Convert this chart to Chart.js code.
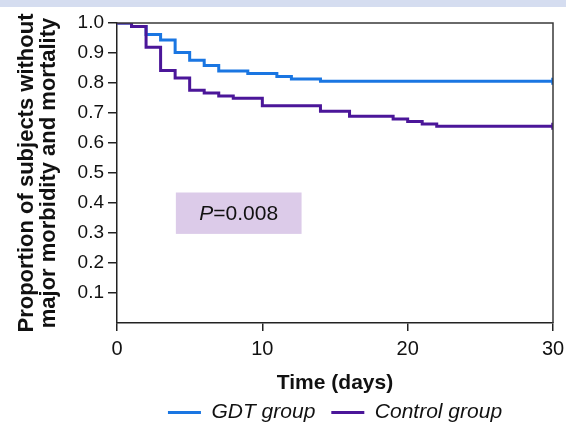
<!DOCTYPE html>
<html>
<head>
<meta charset="utf-8">
<script src="https://cdn.jsdelivr.net/npm/chart.js@4/dist/chart.umd.min.js"></script>
<style>
  html, body { margin: 0; padding: 0; background: #ffffff; }
  #wrap { width: 566px; height: 442px; position: relative; }
</style>
</head>
<body>
<div id="wrap"><canvas id="c" width="566" height="442"></canvas></div>
<script>
// ---- data ----
const seriesNames = ["GDT group", "Control group"];
const gdtDays   = [0, 1, 2, 3, 4, 5, 6, 7, 9, 11, 12, 14, 30];
const gdtValues = [1.0, 0.988, 0.962, 0.943, 0.902, 0.876, 0.858, 0.840, 0.832, 0.822, 0.813, 0.806, 0.806];
const ctlDays   = [0, 1, 2, 3, 4, 5, 6, 7, 8, 10, 14, 16, 19, 20, 21, 22, 30];
const ctlValues = [1.0, 0.988, 0.919, 0.842, 0.817, 0.776, 0.767, 0.757, 0.749, 0.724, 0.706, 0.689, 0.680, 0.672, 0.663, 0.656, 0.656];
const xTickValues = [0, 10, 20, 30];
const yTickLabels = ["", "0.1", "0.2", "0.3", "0.4", "0.5", "0.6", "0.7", "0.8", "0.9", "1.0"];
const pValueText = ["P", "=0.008"];
const pBox = { x0: 4.05, x1: 12.7, y0: 0.435, y1: 0.297 };

const BLUE = "#1a76e2";
const PURPLE = "#4b1699";
const FONT = "'Liberation Sans', Arial, Helvetica, sans-serif";

function toPoints(xs, ys) { return xs.map((x, i) => ({ x: x, y: ys[i] })); }
function lastOnly(n, r) { return ctx => (ctx.dataIndex === n - 1 ? r : 0); }

const decor = {
  id: 'decor',
  beforeDraw(chart) {
    const c = chart.ctx;
    c.save();
    c.fillStyle = "#d5ddf0";
    c.fillRect(0, 0, chart.width, 7);
    c.restore();
  },
  afterDatasetsDraw(chart) {
    const c = chart.ctx, a = chart.chartArea;
    const xs = chart.scales.x, ys = chart.scales.y;
    c.save();
    // frame top and right
    c.strokeStyle = "#3a3a3a";
    c.lineWidth = 1.5;
    c.beginPath();
    c.moveTo(a.left, a.top);
    c.lineTo(a.right, a.top);
    c.lineTo(a.right, a.bottom);
    c.stroke();
    // p-value box
    const bx0 = xs.getPixelForValue(pBox.x0), bx1 = xs.getPixelForValue(pBox.x1);
    const by0 = ys.getPixelForValue(pBox.y0), by1 = ys.getPixelForValue(pBox.y1);
    c.fillStyle = "#dccbe9";
    c.fillRect(bx0, by0, bx1 - bx0, by1 - by0);
    c.fillStyle = "#111111";
    c.textBaseline = "middle";
    const fI = "italic 21px " + FONT, fN = "21px " + FONT;
    c.font = fI; const w1 = c.measureText(pValueText[0]).width;
    c.font = fN; const w2 = c.measureText(pValueText[1]).width;
    const cx = (bx0 + bx1) / 2, cy = (by0 + by1) / 2 + 1;
    const sx = cx - (w1 + w2) / 2;
    c.font = fI; c.fillText(pValueText[0], sx, cy);
    c.font = fN; c.fillText(pValueText[1], sx + w1, cy);
    c.restore();
  }
};

new Chart(document.getElementById('c'), {
  type: 'line',
  data: {
    datasets: [
      {
        label: seriesNames[0],
        data: toPoints(gdtDays, gdtValues),
        borderColor: BLUE, backgroundColor: BLUE,
        borderWidth: 3, stepped: 'before', fill: false,
        pointRadius: lastOnly(gdtDays.length, 3.5),
        pointStyle: 'line', rotation: 90, pointBorderWidth: 3.5,
        pointBorderColor: BLUE,
        order: 1
      },
      {
        label: seriesNames[1],
        data: toPoints(ctlDays, ctlValues),
        borderColor: PURPLE, backgroundColor: PURPLE,
        borderWidth: 3, stepped: 'before', fill: false,
        pointRadius: lastOnly(ctlDays.length, 3.5),
        pointStyle: 'line', rotation: 90, pointBorderWidth: 3.5,
        pointBorderColor: PURPLE,
        order: 0
      }
    ]
  },
  options: {
    responsive: false,
    animation: false,
    devicePixelRatio: 1,
    layout: { padding: { top: 23, left: 0, right: 0, bottom: 9 } },
    plugins: {
      tooltip: { enabled: false },
      legend: {
        position: 'bottom',
        fullSize: false,
        labels: {
          usePointStyle: true,
          pointStyleWidth: 33,
          boxHeight: 21,
          padding: 16,
          color: "#111111",
          font: { family: FONT, size: 21, style: 'italic' },
          sort: (a, b) => a.datasetIndex - b.datasetIndex,
          generateLabels: chart => chart.data.datasets.map((d, i) => ({
            text: d.label, datasetIndex: i,
            strokeStyle: d.borderColor, fillStyle: d.borderColor,
            lineWidth: 3, pointStyle: 'line', fontColor: "#111111", hidden: false
          }))
        }
      }
    },
    scales: {
      x: {
        type: 'linear', min: 0, max: 30,
        afterBuildTicks: s => { s.ticks = xTickValues.map(v => ({ value: v })); },
        afterFit: s => { s.height = 63; s.paddingRight = 13; s.paddingLeft = 0; },
        grid: { drawOnChartArea: false, drawTicks: true, tickLength: 8, color: "#222222", lineWidth: 1.5 },
        border: { display: true, color: "#222222", width: 1.5 },
        ticks: { color: "#111111", padding: 6, maxRotation: 0, font: { family: FONT, size: 20 } },
        title: {
          display: true, text: "Time (days)", color: "#111111",
          font: { family: FONT, size: 21, weight: 'bold', lineHeight: 0.3 },
          padding: { top: 0, bottom: 0 }
        }
      },
      y: {
        type: 'linear', min: 0, max: 1,
        afterBuildTicks: s => { s.ticks = yTickLabels.map((t, i) => ({ value: i / 10 })); },
        afterFit: s => { s.width = 117; },
        grid: {
          drawOnChartArea: false, drawTicks: true, tickLength: 9, lineWidth: 1.5,
          color: ctx => (ctx.tick && ctx.tick.value === 0 ? 'rgba(0,0,0,0)' : "#222222")
        },
        border: { display: true, color: "#222222", width: 1.5 },
        ticks: {
          color: "#111111", padding: 4, font: { family: FONT, size: 19 },
          callback: (v, i) => yTickLabels[i]
        },
        title: {
          display: true,
          text: ["Proportion of subjects without", "major morbidity and mortality"],
          color: "#111111",
          font: { family: FONT, size: 22, weight: 'bold', lineHeight: 1.0 },
          padding: { top: 16, bottom: 0 }
        }
      }
    }
  },
  plugins: [decor]
});
</script>
</body>
</html>
